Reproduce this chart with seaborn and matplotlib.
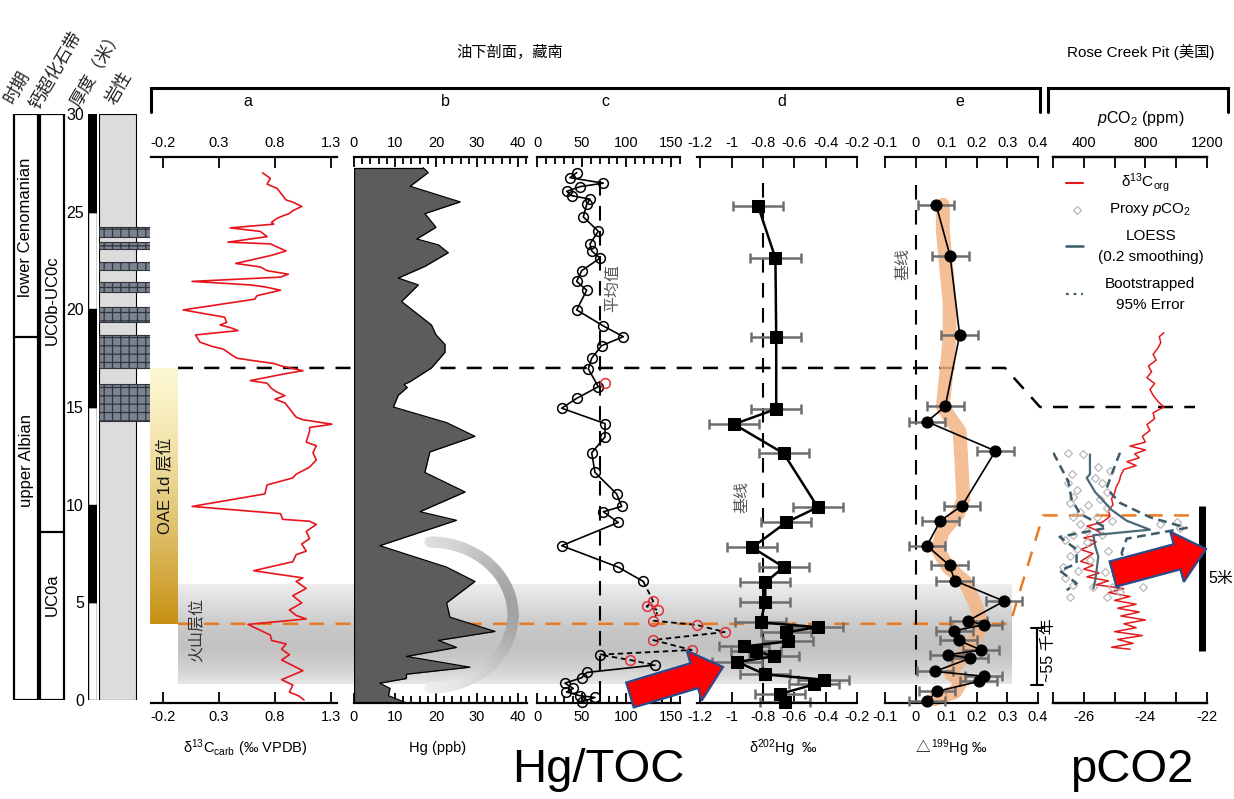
import numpy as np
import matplotlib
matplotlib.use("Agg")
import matplotlib.pyplot as plt
import seaborn as sns
from matplotlib.patches import Rectangle, FancyArrow
from matplotlib.collections import LineCollection
from matplotlib.ticker import FixedLocator

# ---------------------------------------------------------------- data
# a: carbonate carbon isotopes (depth m, permil VPDB)
a_depth = [26.99, 26.70, 26.41, 26.19, 25.82, 25.60, 25.49, 25.27, 25.05, 24.91, 24.76, 24.63,
           24.45, 24.36, 24.17, 23.99, 23.72, 23.44, 23.35, 22.99, 22.75, 22.35, 22.17, 21.98,
           21.80, 21.65, 21.43, 21.25, 21.15, 20.98, 20.70, 20.52, 19.97, 19.60, 19.33, 19.20,
           19.05, 18.91, 18.69, 18.32, 18.10, 17.96, 17.68, 17.50, 17.37, 17.23, 17.08, 16.86,
           16.68, 16.35, 16.22, 15.95, 15.76, 15.58, 15.40, 15.21, 14.48, 14.35, 14.12, 13.95,
           13.75, 13.20, 13.02, 12.66, 12.29, 11.92, 11.56, 11.37, 11.01, 10.55, 9.91, 9.54,
           9.25, 9.15, 8.99, 8.63, 8.26, 7.99, 7.62, 7.44, 7.08, 6.62, 6.25, 6.07, 5.71, 5.34,
           4.97, 4.61, 4.33, 4.15, 3.87, 3.32, 3.05, 2.87, 2.60, 2.32, 2.05, 1.50, 1.04, 0.77,
           0.40, 0.22, 0.00]
a_d13c = [0.69, 0.76, 0.73, 0.82, 0.87, 0.90, 0.96, 1.04, 0.96, 0.93, 0.86, 0.81,
          0.77, 0.79, 0.40, 0.67, 0.73, 0.38, 0.76, 0.90, 0.76, 0.45, 0.67, 0.73,
          0.92, 0.85, 0.06, 0.58, 0.71, 0.85, 0.64, 0.62, -0.02, 0.35, 0.37, 0.31,
          0.41, 0.47, 0.09, 0.13, 0.24, 0.34, 0.41, 0.46, 0.61, 0.79, 0.87, 1.05,
          0.87, 0.58, 0.73, 0.77, 0.82, 0.89, 0.80, 0.89, 0.99, 1.05, 1.31, 1.11,
          1.11, 1.08, 1.17, 1.14, 1.17, 1.11, 0.99, 0.96, 0.73, 0.71, 0.06, 0.85,
          0.87, 1.11, 1.17, 1.08, 1.11, 1.04, 1.08, 0.99, 0.96, 0.61, 1.05, 0.99, 1.08, 0.96,
          1.04, 0.93, 0.99, 1.08, 0.56, 0.76, 0.77, 0.90, 0.86, 0.93, 0.86, 1.05, 0.86, 0.96,
          0.93, 1.01, 1.06]

# b: mercury concentration (ppb)
b_depth = [27.25, 27.00, 26.30, 25.50, 24.90, 24.20, 23.60, 23.30, 22.90, 22.20, 21.60, 21.25,
           20.40, 19.20, 18.70, 18.20, 17.80, 17.00, 16.30, 16.15, 16.00, 15.60, 15.00, 14.20,
           13.50, 12.70, 11.65, 10.65, 9.64, 9.20, 7.90, 6.80, 6.07, 4.97, 4.24, 3.51, 3.05,
           2.69, 2.23, 1.68, 1.32, 1.10, 0.86, 0.59, 0.22, -0.15]
b_hg = [16.9, 18.1, 13.7, 25.9, 17.3, 20.0, 15.3, 20.6, 23.0, 17.3, 10.8, 15.7,
        11.6, 18.9, 20.0, 22.2, 22.2, 18.9, 13.7, 12.2, 13.0, 10.8, 9.6, 22.6,
        29.5, 18.5, 17.3, 27.1, 16.1, 25.0, 6.3, 22.6, 29.5, 22.6, 23.4, 34.4, 20.6,
        25.0, 12.8, 28.3, 12.8, 12.8, 6.3, 8.8, 8.4, 12.8]

# c: Hg/TOC ratio; 'k' regular samples, 'r' flagged samples
c_depth = [27.00, 26.74, 26.46, 26.28, 26.04, 25.82, 25.64, 25.37, 24.73, 24.00, 23.35, 22.99,
           22.62, 21.98, 21.43, 20.98, 19.97, 19.15, 18.60, 18.14, 17.50, 16.95, 16.04, 15.44,
           14.94, 14.15, 13.47, 12.65, 11.65, 10.55, 9.91, 9.64, 9.09, 7.90, 6.80, 6.07,
           5.06, 4.79, 4.60, 4.06, 3.84, 3.48, 3.07, 2.56, 2.32, 2.05, 1.79,
           1.41, 1.14, 0.86, 0.59, 0.41, 0.22, 0.13, -0.10]
c_ratio = [44.4, 36.9, 74.2, 48.1, 33.2, 38.8, 59.3, 55.6, 51.8, 68.6, 59.3, 61.2,
           70.5, 50.0, 44.4, 55.6, 44.4, 74.2, 96.6, 72.3, 61.2, 57.4, 68.6, 44.4,
           27.6, 76.1, 76.1, 61.2, 64.9, 89.1, 94.7, 74.2, 90.9, 27.6, 90.9, 118.9,
           130.0, 122.6, 135.6, 130.2, 179.0, 210.0, 130.0, 173.0, 70.0, 104.0, 132.0,
           55.6, 50.0, 31.3, 40.6, 33.0, 48.1, 64.9, 50.0]
c_flag = ["k"] * 36 + ["r", "r", "r", "r", "r", "r", "r", "r", "k", "r", "k"] + ["k"] * 8
c_extra_depth = [16.25]
c_extra_ratio = [76.1]
c_mean = 70.0

# d: mass-dependent Hg isotopes
d_depth = [25.27, 22.62, 18.56, 14.90, 14.12, 12.62, 9.87, 9.09, 7.81, 6.80, 6.02, 5.01, 3.97,
           3.73, 3.47, 3.00, 2.74, 2.50, 2.23, 1.95, 1.31, 1.04, 0.80, 0.31, -0.12]
d_d202 = [-0.83, -0.72, -0.715, -0.715, -0.984, -0.667, -0.45, -0.652, -0.868, -0.667, -0.785,
          -0.785, -0.815, -0.45, -0.652, -0.64, -0.92, -0.842, -0.73, -0.963, -0.785, -0.413,
          -0.472, -0.69, -0.66]
d_err = [0.16, 0.16, 0.16, 0.16, 0.16, 0.16, 0.16, 0.16, 0.16, 0.16, 0.16, 0.16, 0.16,
         0.16, 0.16, 0.16, 0.16, 0.16, 0.16, 0.16, 0.16, 0.16, 0.16, 0.16, 0.16]
d_base = -0.8

# e: mass-independent Hg isotopes
e_depth = [25.36, 22.71, 18.69, 15.03, 14.25, 12.75, 9.95, 9.18, 7.90, 6.89, 6.11, 5.06, 4.06,
           3.84, 3.55, 3.05, 2.56, 2.32, 2.14, 1.46, 1.22, 0.95, 0.44, -0.06]
e_D199 = [0.067, 0.113, 0.144, 0.097, 0.037, 0.261, 0.152, 0.081, 0.037, 0.111, 0.128, 0.289,
          0.172, 0.222, 0.126, 0.141, 0.214, 0.106, 0.178, 0.063, 0.222, 0.206, 0.070, 0.037]
e_err = [0.06] * 24
e_trend_depth = [25.36, 24.0, 22.17, 20.34, 18.51, 16.68, 15.03, 14.48, 13.75, 12.10, 10.27, 9.54,
                 8.63, 7.71, 6.80, 6.07, 4.97, 3.87, 3.14, 2.41, 1.68, 1.32, 0.95, 0.40, 0.04]
e_trend = [0.089, 0.089, 0.100, 0.111, 0.111, 0.100, 0.089, 0.111, 0.144, 0.150, 0.156, 0.139,
           0.089, 0.072, 0.106, 0.161, 0.194, 0.217, 0.194, 0.161, 0.128, 0.117, 0.150, 0.128, 0.061]
e_base = 0.0

# Rose Creek Pit: organic carbon isotopes and pCO2 proxy
r_depth = [18.8, 18.6, 18.3, 18.0, 17.7, 17.4, 17.1, 16.8, 16.5, 16.2, 15.9, 15.6, 15.3, 15.0,
           14.7, 14.4, 14.1, 13.8, 13.5, 13.2, 13.0, 12.8, 12.6, 12.4, 12.2, 12.0, 11.8, 11.5,
           11.2, 10.9, 10.6, 10.3, 10.0, 9.7, 9.4, 9.1, 8.9, 8.7, 8.5, 8.3, 8.1, 7.9, 7.7, 7.5,
           7.3, 7.1, 6.9, 6.7, 6.5, 6.3, 6.1, 5.9, 5.7, 5.5, 5.3, 5.1, 4.9, 4.7, 4.5, 4.3, 4.1,
           3.9, 3.7, 3.5, 3.3, 3.1, 2.9, 2.7, 2.6]
r_d13corg = [-23.4, -23.55, -23.5, -23.6, -23.75, -23.65, -23.9, -23.8, -23.95, -23.7, -23.85,
             -23.75, -23.6, -23.4, -23.75, -23.7, -23.95, -23.85, -24.1, -24.0, -24.5, -24.0,
             -24.35, -24.2, -24.6, -24.3, -24.7, -24.8, -24.85, -24.95, -25.0, -25.1, -25.05,
             -25.2, -25.15, -25.4, -25.9, -25.6, -25.4, -26.0, -25.6, -25.8, -26.1, -25.7, -25.9,
             -26.1, -25.7, -26.0, -25.5, -25.9, -25.2, -25.6, -24.7, -25.2, -24.5, -25.0, -24.3,
             -24.9, -24.2, -24.8, -24.0, -24.7, -24.3, -25.0, -24.1, -24.9, -24.4, -25.1, -24.5]
p_depth = [12.66, 12.57, 11.92, 11.74, 11.56, 11.37, 11.10, 11.10, 10.74, 10.65, 10.37, 10.27,
           10.09, 10.00, 9.82, 9.64, 9.36, 9.36, 9.18, 8.99, 8.99, 9.09, 8.81, 8.63, 8.44, 8.44,
           8.17, 8.08, 7.71, 7.62, 7.35, 7.17, 6.80, 6.62, 6.53, 6.25, 5.89, 5.80, 5.80, 5.80,
           5.52, 5.25, 5.25]
p_co2 = [299, 397, 494, 570, 321, 473, 516, 299, 353, 548, 332, 505, 310, 429, 548, 375, 332,
         483, 581, 375, 894, 1003, 1024, 419, 332, 516, 278, 419, 353, 559, 310, 440, 267, 364,
         537, 278, 332, 462, 581, 786, 635, 310, 548]
loess_depth = [12.57, 11.56, 11.37, 10.65, 9.73, 9.18, 8.72, 8.44, 7.90, 7.35, 6.62, 6.07, 5.71]
loess_co2 = [440, 440, 419, 473, 581, 678, 829, 462, 473, 494, 483, 473, 462]
lo95_depth = [12.66, 11.19, 10.27, 9.54, 8.81, 8.35, 7.71, 6.98, 6.62, 5.98, 5.62]
lo95_co2 = [202, 299, 321, 375, 548, 243, 353, 353, 243, 353, 289]
hi95_depth = [12.66, 11.56, 10.83, 10.09, 9.36, 8.81, 8.26, 7.53, 6.80, 6.07, 5.71]
hi95_co2 = [635, 581, 548, 635, 829, 1068, 678, 646, 678, 667, 613]

# stratigraphic column
thick_bottoms = [0, 5, 10, 15, 20, 25]
thick_colors = ["white", "black", "white", "black", "white", "black"]
lime_bottoms = [14.3, 17.0, 19.35, 20.9, 22.0, 23.1, 23.7]
lime_tops = [16.2, 18.7, 20.1, 21.4, 22.4, 23.45, 24.2]
stage_boundary = 18.6
zone_boundary = 8.6

# marker horizons
tibet_top = 17.0        # upper correlation level, southern Tibet
rose_top = 15.0         # upper correlation level, Rose Creek Pit
tibet_volc = 3.9        # volcanic horizon, southern Tibet
rose_volc = 9.45        # volcanic horizon, Rose Creek Pit
oae_base, oae_top = 3.9, 17.0
band_base, band_top = 0.8, 5.9

# ---------------------------------------------------------------- layout helpers
W, H = 1234, 799
Y0, PXM = 700.0, 19.533


def ypix(depth):
    return Y0 - depth * PXM


def depth_at(y):
    return (Y0 - y) / PXM


sns.set_theme(style="white")
plt.rcParams["font.family"] = ["Liberation Sans", "Noto Sans CJK SC", "DejaVu Sans"]
plt.rcParams["mathtext.fontset"] = "custom"
plt.rcParams["mathtext.rm"] = "Liberation Sans"
plt.rcParams["mathtext.it"] = "Liberation Sans:italic"
plt.rcParams["mathtext.bf"] = "Liberation Sans:bold"
plt.rcParams["mathtext.fallback"] = "stixsans"
plt.rcParams["axes.unicode_minus"] = False
plt.rcParams["hatch.linewidth"] = 0.9
for key in ("text.color", "axes.labelcolor", "xtick.color", "ytick.color"):
    plt.rcParams[key] = "black"

fig = plt.figure(figsize=(W / 100, H / 100), dpi=100)
fig.patch.set_facecolor("white")


def add_ax(x0, x1, y0, y1, z=2):
    ax = fig.add_axes([x0 / W, 1 - y1 / H, (x1 - x0) / W, (y1 - y0) / H])
    ax.set_zorder(z)
    return ax


def pixel_axes(z):
    ax = fig.add_axes([0, 0, 1, 1])
    ax.set_zorder(z)
    ax.set_xlim(0, W)
    ax.set_ylim(H, 0)
    ax.axis("off")
    ax.patch.set_visible(False)
    return ax


bg = pixel_axes(0)
ov = pixel_axes(6)

# ---------------------------------------------------------------- background shading
yb0, yb1 = ypix(band_top), ypix(band_base)
rows = np.linspace(0, 1, 60)
shade = np.interp(rows, [0, 0.2, 0.45, 0.65, 0.85, 1.0], [0.93, 0.86, 0.78, 0.76, 0.82, 0.90])
band_img = np.repeat(shade[:, None, None], 3, axis=2)
bg.imshow(band_img, extent=[178, 1012, yb1, yb0], origin="upper", aspect="auto", zorder=1,
          interpolation="bilinear")

yo0, yo1 = ypix(oae_top), ypix(oae_base)
t = np.linspace(0, 1, 80)[:, None]
pale = np.array([0.99, 0.97, 0.82])
gold = np.array([0.78, 0.57, 0.08])
mix = t ** 1.3
oae_img = (pale * (1 - mix) + gold * mix)[:, None, :]
bg.imshow(oae_img, extent=[150, 178, yo1, yo0], origin="upper", aspect="auto", zorder=1,
          interpolation="bilinear")
bg.set_xlim(0, W)
bg.set_ylim(H, 0)

# correlation lines
bg.plot([178, 1005, 1040, 1195], [ypix(tibet_top), ypix(tibet_top), ypix(rose_top), ypix(rose_top)],
        color="black", lw=1.8, dashes=(6, 4.5), zorder=2)
bg.plot([178, 1010, 1043, 1190], [ypix(tibet_volc), ypix(tibet_volc), ypix(rose_volc), ypix(rose_volc)],
        color="#ea7a22", lw=1.8, dashes=(6, 4.5), zorder=2)

# ---------------------------------------------------------------- panel styling
PT, PB = 157, 703


def style_panel(ax, xlim, major, labels, minor=None, maj_len=8, min_len=4):
    ax.set_xlim(*xlim)
    ax.set_ylim(depth_at(PB), depth_at(PT))
    ax.set_facecolor("none")
    ax.patch.set_visible(False)
    for s in ("left", "right"):
        ax.spines[s].set_visible(False)
    for s in ("top", "bottom"):
        ax.spines[s].set_visible(True)
        ax.spines[s].set_linewidth(1.6)
        ax.spines[s].set_color("black")
    ax.xaxis.set_major_locator(FixedLocator(major))
    ax.set_xticklabels(labels)
    if minor is not None:
        ax.xaxis.set_minor_locator(FixedLocator(minor))
    ax.tick_params(axis="x", which="both", top=True, bottom=True, labeltop=True,
                   labelbottom=True, direction="in", width=1.3, color="black",
                   labelsize=10.5, pad=5, labelcolor="black")
    ax.tick_params(axis="x", which="major", length=maj_len)
    ax.tick_params(axis="x", which="minor", length=min_len)
    ax.set_yticks([])
    ax.set_xlabel("")
    ax.set_ylabel("")
    ax.grid(False)


# a
ax_a = add_ax(151, 337, PT, PB)
sns.lineplot(x=a_d13c, y=a_depth, sort=False, estimator=None, color="#e8141c", lw=1.2, ax=ax_a)
style_panel(ax_a, (-0.307, 1.355), [-0.2, 0.3, 0.8, 1.3], ["-0.2", "0.3", "0.8", "1.3"], maj_len=8)

# b
ax_b = add_ax(354, 527, PT, PB)
ax_b.fill_betweenx(b_depth, 0, b_hg, color="#5c5c5c", lw=0, zorder=2)
sns.lineplot(x=b_hg, y=b_depth, sort=False, estimator=None, color="black", lw=0.9, ax=ax_b, zorder=3)
ax_b.plot([0, 0], [b_depth[-1], b_depth[0]], color="black", lw=0.9, zorder=3)
ax_b.plot([0, b_hg[0]], [b_depth[0], b_depth[0]], color="black", lw=0.9, zorder=3)
style_panel(ax_b, (0, 42.2), [0, 10, 20, 30, 40], ["0", "10", "20", "30", "40"],
            minor=list(range(0, 43, 2)), maj_len=7, min_len=5)

# faint curved guide over panel b
arc_t = np.linspace(-np.pi / 2, np.pi / 2, 80)
arc_x = 430 + 83 * np.cos(arc_t)
arc_y = 615 + 73 * np.sin(arc_t)
pts = np.column_stack([arc_x, arc_y])
segs = np.stack([pts[:-1], pts[1:]], axis=1)
mid = (arc_t[:-1] + arc_t[1:]) / 2
g = 0.90 - 0.26 * np.cos(mid * 0.95) ** 2 + 0.03 * np.sin(mid)
arc = LineCollection(segs, colors=[(v, v, v) for v in g], linewidths=8, capstyle="round",
                     zorder=3, alpha=0.9)
ov.add_collection(arc)

# c
ax_c = add_ax(537, 680, PT, PB)
ax_c.plot([c_mean, c_mean], [depth_at(181), -0.1], color="black", lw=1.5, dashes=(7, 5), zorder=1)
cd = np.array(c_depth)
cv = np.array(c_ratio)
sns.lineplot(x=cv[:36], y=cd[:36], sort=False, estimator=None, color="black", lw=1.2, ax=ax_c)
sns.lineplot(x=cv[35:47], y=cd[35:47], sort=False, estimator=None, color="black", lw=1.3,
             linestyle=(0, (3, 2)), ax=ax_c)
sns.lineplot(x=cv[46:], y=cd[46:], sort=False, estimator=None, color="black", lw=1.2, ax=ax_c)
flags = np.array(c_flag)
for fl, col in (("k", "black"), ("r", "#e0303a")):
    m = flags == fl
    sns.lineplot(x=cv[m], y=cd[m], sort=False, estimator=None, ax=ax_c, linestyle="",
                 marker="o", ms=7, mfc="none", mec=col, mew=1.1)
sns.lineplot(x=c_extra_ratio, y=c_extra_depth, sort=False, estimator=None, ax=ax_c, linestyle="",
             marker="o", ms=7, mfc="none", mec="#e0303a", mew=1.1)
for line in ax_c.get_lines():
    line.set_clip_on(False)
style_panel(ax_c, (0, 160), [0, 50, 100, 150], ["0", "50", "100", "150"],
            minor=list(range(0, 161, 10)), maj_len=7, min_len=5)

# d
ax_d = add_ax(697, 857, PT, PB)
ax_d.plot([d_base, d_base], [depth_at(183), -0.1], color="black", lw=1.5, dashes=(7, 5), zorder=1)
ax_d.errorbar(d_d202, d_depth, xerr=d_err, fmt="none", ecolor="#6e6e6e", elinewidth=1.8,
              capsize=3.5, capthick=1.8, zorder=2)
sns.lineplot(x=d_d202, y=d_depth, sort=False, estimator=None, color="black", lw=1.8, ax=ax_d, zorder=3)
sns.lineplot(x=d_d202, y=d_depth, sort=False, estimator=None, ax=ax_d, linestyle="", marker="s",
             ms=8, mfc="black", mec="black", zorder=4)
for art in ax_d.get_children():
    if hasattr(art, "set_clip_on"):
        art.set_clip_on(False)
style_panel(ax_d, (-1.22, -0.2), [-1.2, -1.0, -0.8, -0.6, -0.4, -0.2],
            ["-1.2", "-1", "-0.8", "-0.6", "-0.4", "-0.2"], maj_len=8)

# e
ax_e = add_ax(885, 1038, PT, PB)
ax_e.plot([e_base, e_base], [depth_at(185), -0.1], color="black", lw=1.5, dashes=(7, 5), zorder=1)
sns.lineplot(x=e_trend, y=e_trend_depth, sort=False, estimator=None, color="#f3b385", lw=10,
             alpha=0.85, solid_capstyle="round", ax=ax_e, zorder=2)
ax_e.errorbar(e_D199, e_depth, xerr=e_err, fmt="none", ecolor="#6e6e6e", elinewidth=1.8,
              capsize=3.5, capthick=1.8, zorder=3)
sns.lineplot(x=e_D199, y=e_depth, sort=False, estimator=None, color="black", lw=1.2, ax=ax_e, zorder=4)
sns.lineplot(x=e_D199, y=e_depth, sort=False, estimator=None, ax=ax_e, linestyle="", marker="o",
             ms=8, mfc="black", mec="black", zorder=5)
for art in ax_e.get_children():
    if hasattr(art, "set_clip_on"):
        art.set_clip_on(False)
style_panel(ax_e, (-0.1, 0.4), [-0.1, 0.0, 0.1, 0.2, 0.3, 0.4],
            ["-0.1", "0", "0.1", "0.2", "0.3", "0.4"], maj_len=8)

# Rose Creek Pit
ax_r = add_ax(1053, 1207, PT, PB)
sns.lineplot(x=r_d13corg, y=r_depth, sort=False, estimator=None, color="#e31a1c", lw=1.1, ax=ax_r)
style_panel(ax_r, (-27, -22), [-27, -26, -25, -24, -23, -22], ["", "-26", "", "-24", "", "-22"],
            maj_len=8)
ax_r.tick_params(axis="x", which="both", top=False, labeltop=False)
ax_p = ax_r.twiny()
ax_p.set_zorder(ax_r.get_zorder() + 0.1)
sns.lineplot(x=p_co2, y=p_depth, sort=False, estimator=None, ax=ax_p, linestyle="", marker="D",
             ms=4.5, mfc="none", mec="#b9b9b9", mew=0.9)
sns.lineplot(x=lo95_co2, y=lo95_depth, sort=False, estimator=None, ax=ax_p, color="#3d5a6a",
             lw=1.8, linestyle=(0, (3.5, 2.2)))
sns.lineplot(x=hi95_co2, y=hi95_depth, sort=False, estimator=None, ax=ax_p, color="#3d5a6a",
             lw=1.8, linestyle=(0, (3.5, 2.2)))
sns.lineplot(x=loess_co2, y=loess_depth, sort=False, estimator=None, ax=ax_p, color="#4a6878", lw=1.6)
style_panel(ax_p, (200, 1200), [200, 400, 600, 800, 1000, 1200],
            ["", "400", "", "800", "", "1200"], maj_len=8)
ax_p.set_ylim(ax_r.get_ylim())
ax_p.tick_params(axis="x", which="both", bottom=False, labelbottom=False)

# ---------------------------------------------------------------- stratigraphic column
ax_t = add_ax(88, 97, ypix(30), ypix(0))
ax_t.bar([0.5] * 6, [5] * 6, bottom=thick_bottoms, width=1, color=thick_colors,
         edgecolor="black", lw=1.0)
ax_t.set_xlim(0, 1)
ax_t.set_ylim(0, 30)
ax_t.set_xticks([])
ax_t.set_yticks([0, 5, 10, 15, 20, 25, 30])
ax_t.tick_params(axis="y", length=0, pad=3, labelsize=11.5)
for s in ax_t.spines.values():
    s.set_visible(False)
ax_t.patch.set_visible(False)

ax_l = add_ax(99, 150, ypix(30), ypix(0))
ax_l.bar([18.5], [30], bottom=0, width=37, color="#dcdcdc", edgecolor="black", lw=0.8)
ax_l.barh(lime_bottoms, 51, height=np.array(lime_tops) - np.array(lime_bottoms), left=0,
          align="edge", color="#7b8390", edgecolor="#30353c", hatch="++", lw=0.8)
ax_l.set_xlim(0, 51)
ax_l.set_ylim(0, 30)
ax_l.axis("off")

ax_s = add_ax(12, 66, ypix(30), ypix(0))
ax_s.set_xlim(12, 66)
ax_s.set_ylim(0, 30)
ax_s.axis("off")
for x0 in (14, 40):
    ax_s.add_patch(Rectangle((x0, 0), 24, 30, fill=False, edgecolor="black", lw=1.6))
ax_s.plot([14, 38], [stage_boundary, stage_boundary], color="black", lw=1.6)
ax_s.plot([40, 64], [zone_boundary, zone_boundary], color="black", lw=1.6)
ax_s.text(26, depth_at(227), "lower Cenomanian", rotation=90, ha="center", va="center", fontsize=12)
ax_s.text(26, depth_at(461), "upper Albian", rotation=90, ha="center", va="center", fontsize=12)
ax_s.text(52, depth_at(300), "UC0b-UC0c", rotation=90, ha="center", va="center", fontsize=12)
ax_s.text(52, depth_at(595), "UC0a", rotation=90, ha="center", va="center", fontsize=12)

# ---------------------------------------------------------------- headers and annotations
for txt, x, y in (("时期", 13, 104), ("钙超化石带", 38, 110), ("厚度（米）", 79, 108), ("岩性", 115, 106)):
    ov.text(x, y, txt, rotation=60, rotation_mode="anchor", ha="left", va="baseline",
            fontsize=12.5, color="#222222")

ov.text(510, 52, "油下剖面，藏南", ha="center", va="center", fontsize=11)
ov.text(1141, 52, "Rose Creek Pit (美国)", ha="center", va="center", fontsize=11)
ov.plot([151, 151, 1040, 1040], [112, 88, 88, 112], color="black", lw=2.2, solid_joinstyle="miter")
ov.plot([1048, 1048, 1228, 1228], [112, 88, 88, 112], color="black", lw=2.2, solid_joinstyle="miter")
for lab, x in (("a", 248), ("b", 445), ("c", 605), ("d", 782), ("e", 960)):
    ov.text(x, 102, lab, ha="center", va="center", fontsize=11.5)
ov.text(1141, 119, "$p$CO$_2$ (ppm)", ha="center", va="center", fontsize=11.5)

ov.text(245, 748, "δ$^{13}$C$_{\\mathrm{carb}}$ (‰ VPDB)", ha="center", va="center", fontsize=10.5)
ov.text(438, 748, "Hg (ppb)", ha="center", va="center", fontsize=10.5)
ov.text(783, 748, "δ$^{202}$Hg  ‰", ha="center", va="center", fontsize=10.5)
ov.text(930, 748, "△", ha="right", va="center", fontsize=10.5,
        family=["Noto Sans CJK SC", "DejaVu Sans"])
ov.text(931, 748, "$^{199}$Hg ‰", ha="left", va="center", fontsize=10.5)

ov.text(165, (yo0 + yo1) / 2 - 10, "OAE 1d 层位", rotation=90, ha="center", va="center",
        fontsize=12, color="#111111")
ov.text(197, 630, "火山层位", rotation=90, ha="center", va="center", fontsize=11.5, color="#333333")
ov.text(613, 288, "平均值", rotation=90, ha="center", va="center", fontsize=11.5, color="#555555")
ov.text(742, 497, "基线", rotation=90, ha="center", va="center", fontsize=11.5, color="#555555")
ov.text(903, 264, "基线", rotation=90, ha="center", va="center", fontsize=11.5, color="#555555")

# time and thickness scale bars
ov.plot([1037, 1037], [628, 685], color="black", lw=1.5)
ov.plot([1031, 1043], [628, 628], color="black", lw=1.5)
ov.plot([1031, 1043], [685, 685], color="black", lw=1.5)
ov.text(1048, 650, "~55 千年", rotation=90, ha="center", va="center", fontsize=11.5)
ov.plot([1202, 1202], [506, 651], color="black", lw=5, solid_capstyle="butt")
ov.text(1208, 578, "5米", ha="left", va="center", fontsize=11.5)

# legend of the Rose Creek panel
ov.plot([1066, 1083], [183, 183], color="#e31a1c", lw=1.5)
ov.text(1145, 183, "δ$^{13}$C$_{\\mathrm{org}}$", ha="center", va="center", fontsize=11)
ov.plot([1077], [210], marker="D", ms=4.5, mfc="none", mec="#b9b9b9", mew=0.9)
ov.text(1150, 210, "Proxy $p$CO$_2$", ha="center", va="center", fontsize=11)
ov.plot([1066, 1083], [246, 246], color="#3d5a6a", lw=1.8)
ov.text(1151, 236, "LOESS", ha="center", va="center", fontsize=11)
ov.text(1151, 257, "(0.2 smoothing)", ha="center", va="center", fontsize=11)
ov.plot([1066, 1083], [294, 294], color="#3d5a6a", lw=1.6, dashes=(1.2, 2.2))
ov.text(1150, 284, "Bootstrapped", ha="center", va="center", fontsize=11)
ov.text(1150, 305, "95% Error", ha="center", va="center", fontsize=11)

# emphasis arrows
for (x0, y0, x1, y1) in ((630, 695, 723, 667), (1113, 574, 1206, 549)):
    ov.add_patch(FancyArrow(x0, y0, x1 - x0, y1 - y0, width=26, head_width=52, head_length=30,
                            length_includes_head=True, facecolor="#ff0000", edgecolor="#2b4a8c",
                            lw=1.6, zorder=8))

ov.text(598, 770, "Hg/TOC", ha="center", va="center", fontsize=34, color="black")
ov.text(1132, 770, "pCO2", ha="center", va="center", fontsize=34, color="black")

fig.savefig("out.png", dpi=100, facecolor="white")
